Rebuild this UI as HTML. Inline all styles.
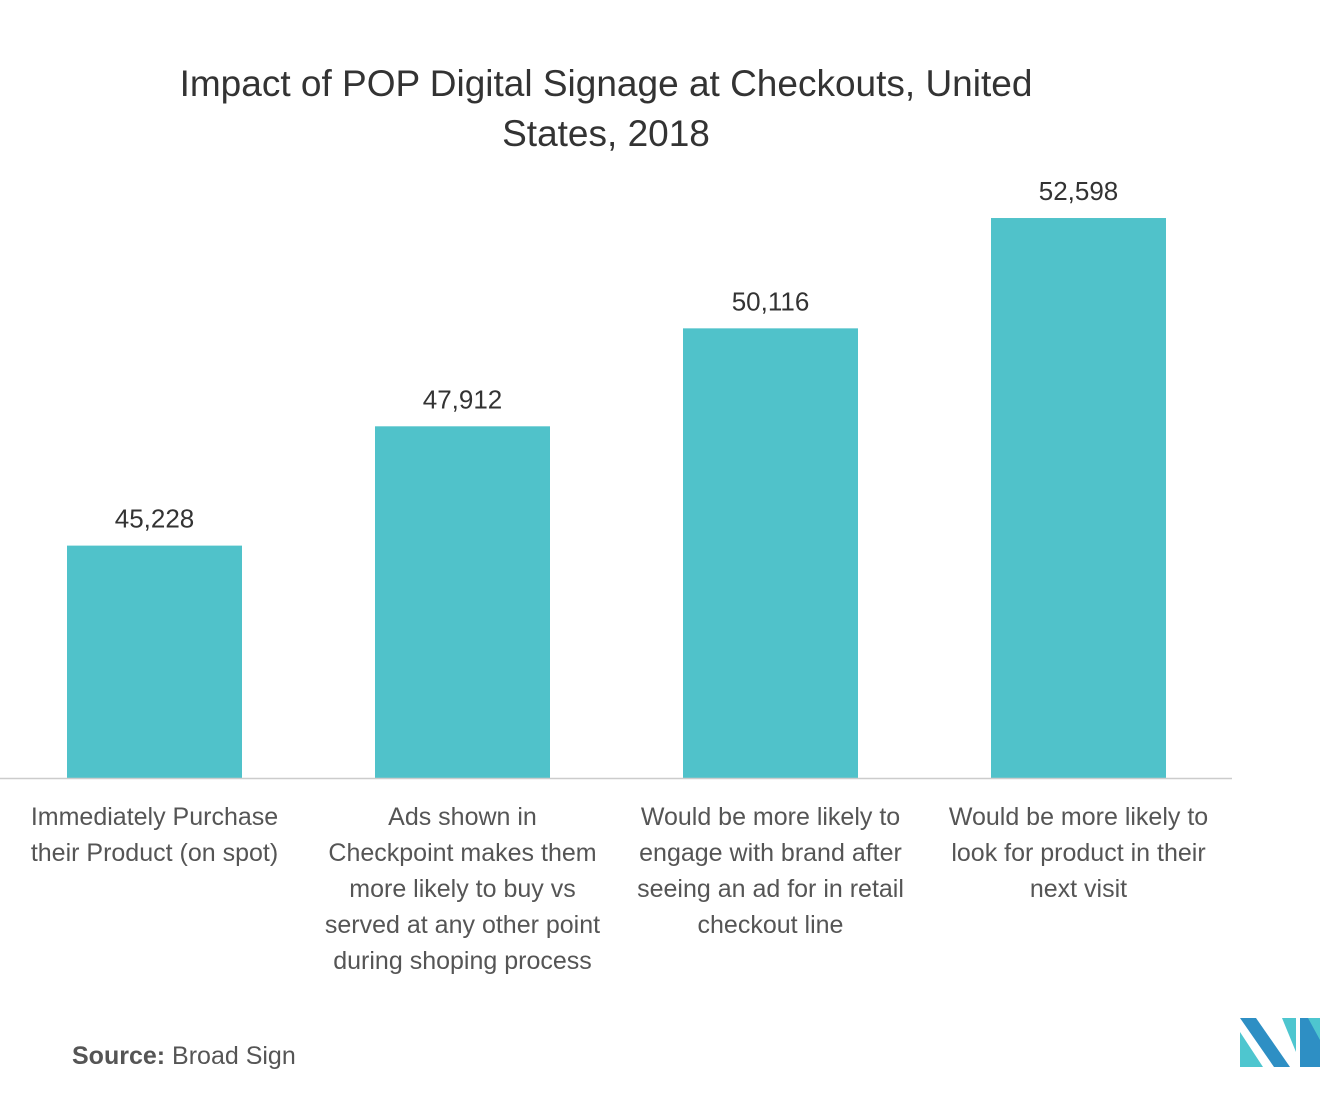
<!DOCTYPE html>
<html><head><meta charset="utf-8"><style>
body{margin:0;background:#fff;font-family:"Liberation Sans",sans-serif;}
svg text{font-family:"Liberation Sans",sans-serif;}
</style></head><body>
<svg width="1321" height="1105">
<text x="606" y="96" font-size="37" fill="#333" text-anchor="middle">Impact of POP Digital Signage at Checkouts, United</text>
<text x="606" y="146" font-size="37" fill="#333" text-anchor="middle">States, 2018</text>
<g id="bars"></g>
<line x1="0" y1="778.5" x2="1232" y2="778.5" stroke="#ccc" stroke-width="1.5"/>
<text x="72" y="1064" font-size="25" fill="#555"><tspan font-weight="bold">Source:</tspan> Broad Sign</text>
<g>
<polygon points="1240,1018 1256,1018 1290,1067 1274,1067" fill="#2e8fc4"/>
<polygon points="1240,1032 1263,1067 1240,1067" fill="#4ec6cf"/>
<polygon points="1282,1018 1296,1018 1296,1052" fill="#4ec6cf"/>
<polygon points="1300,1018 1320,1018 1320,1067 1300,1067" fill="#2e8fc4"/>
<polygon points="1300,1018 1308,1018 1320,1040 1320,1018" fill="#4ec6cf"/>
</g>
</svg>
<script>
const categories=[["Immediately Purchase","their Product (on spot)"],["Ads shown in","Checkpoint makes them","more likely to buy vs","served at any other point","during shoping process"],["Would be more likely to","engage with brand after","seeing an ad for in retail","checkout line"],["Would be more likely to","look for product in their","next visit"]];
const values=[45228,47912,50116,52598];
const valueLabels=["45,228","47,912","50,116","52,598"];
const ns="http://www.w3.org/2000/svg";
const g=document.getElementById('bars');
const base=778,yMin=40000,k=0.04445;
function y(v){return base-(v-yMin)*k;}
function x(i){return 67+i*308;}
values.forEach((v,i)=>{
 const r=document.createElementNS(ns,'rect');
 r.setAttribute('x',x(i));r.setAttribute('y',y(v));r.setAttribute('width',175);r.setAttribute('height',base-y(v));r.setAttribute('fill','#50c2ca');
 
 
 g.appendChild(r);
 const t=document.createElementNS(ns,'text');
 t.setAttribute('x',x(i)+87.5);t.setAttribute('y',y(v)-18);t.setAttribute('font-size','26');t.setAttribute('fill','#333');t.setAttribute('text-anchor','middle');
 t.textContent=valueLabels[i];
 
 
 g.appendChild(t);
 categories[i].forEach((line,j)=>{
  const c=document.createElementNS(ns,'text');
  c.setAttribute('x',x(i)+87.5);c.setAttribute('y',825+j*36);c.setAttribute('font-size','25');c.setAttribute('fill','#555');c.setAttribute('text-anchor','middle');
  c.textContent=line;
  
  
  g.appendChild(c);
 });
});
</script>
</body></html>
